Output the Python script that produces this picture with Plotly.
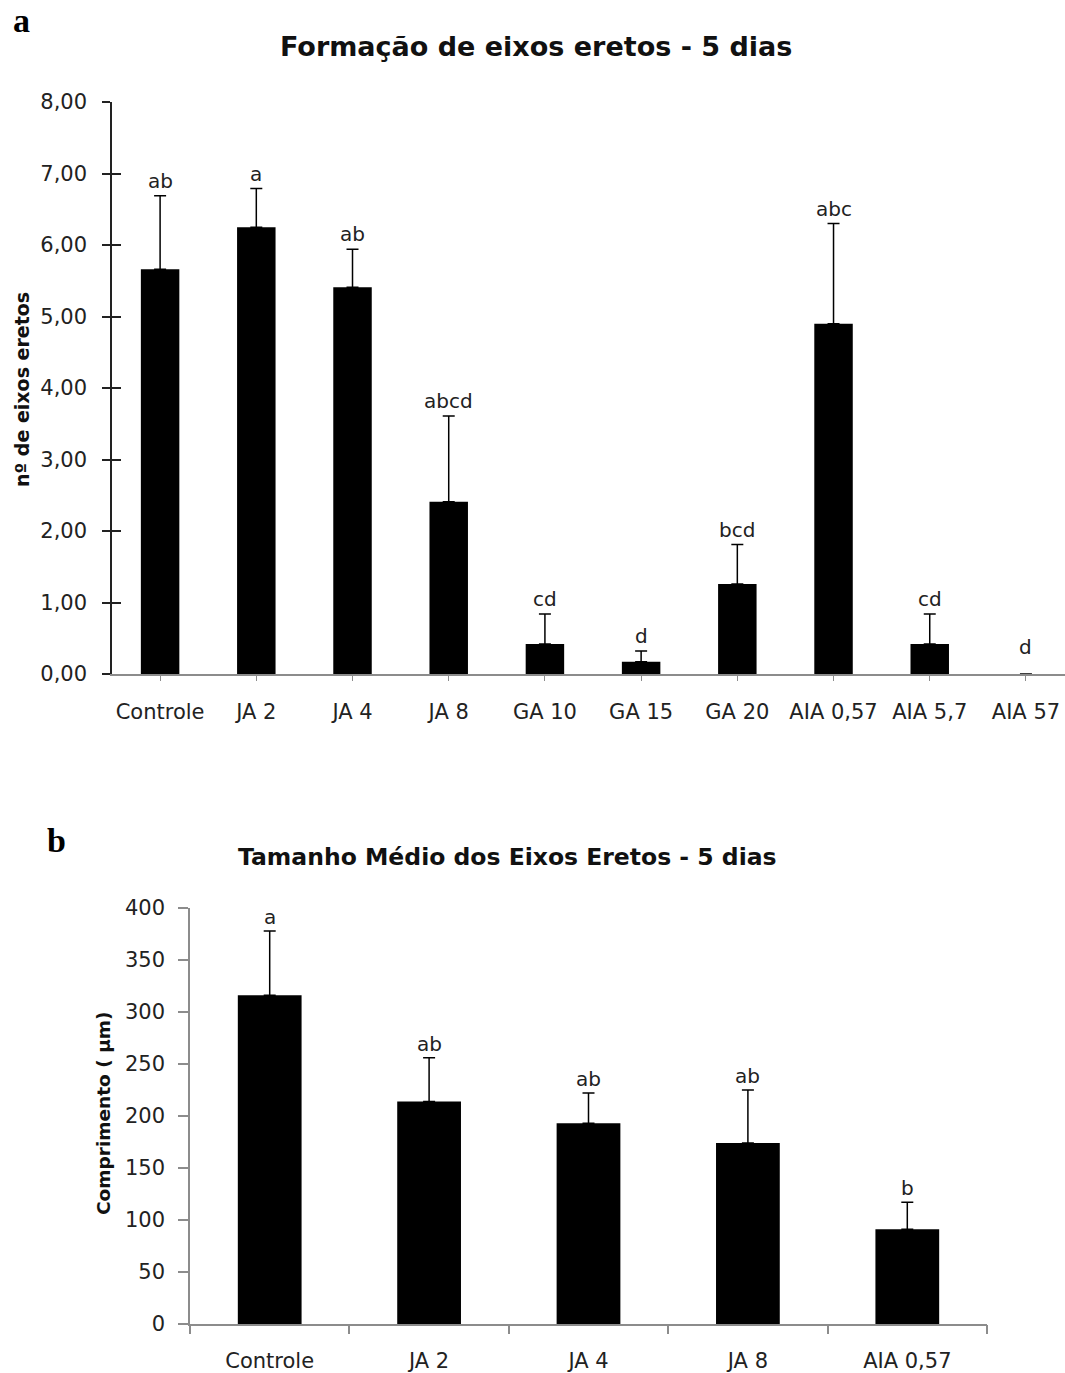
import plotly.graph_objects as go

W, H = 1065, 1373

# Panel a
cats_a = ["Controle", "JA 2", "JA 4", "JA 8", "GA 10", "GA 15", "GA 20", "AIA 0,57", "AIA 5,7", "AIA 57"]
vals_a = [5.66, 6.25, 5.41, 2.41, 0.42, 0.17, 1.26, 4.90, 0.42, 0.0]
err_a = [1.03, 0.54, 0.53, 1.20, 0.42, 0.15, 0.55, 1.40, 0.42, 0.0]
letters_a = ["ab", "a", "ab", "abcd", "cd", "d", "bcd", "abc", "cd", "d"]
yticks_a = [0, 1, 2, 3, 4, 5, 6, 7, 8]
yticklabels_a = ["0,00", "1,00", "2,00", "3,00", "4,00", "5,00", "6,00", "7,00", "8,00"]

# Panel b
cats_b = ["Controle", "JA 2", "JA 4", "JA 8", "AIA 0,57"]
vals_b = [316, 214, 193, 174, 91]
err_b = [62, 42, 29, 51, 26]
letters_b = ["a", "ab", "ab", "ab", "b"]

def px_x(p):
    return p / W

def px_y(p):
    return 1 - p / H

FONT = "DejaVu Sans"
TXT = "#222222"
TICKSIZE = 21

fig = go.Figure()

fig.add_trace(go.Bar(
    x=list(range(len(cats_a))), y=vals_a, width=0.4,
    marker=dict(color="black", line=dict(width=0)),
    error_y=dict(type="data", symmetric=False, array=err_a,
                 arrayminus=[0] * len(err_a), color="black", thickness=1.5, width=6),
    xaxis="x", yaxis="y", showlegend=False,
))
fig.add_trace(go.Scatter(x=[0], y=[0], mode="markers", marker=dict(opacity=0),
                         xaxis="x", yaxis="y3", showlegend=False, hoverinfo="skip"))

fig.add_trace(go.Bar(
    x=list(range(len(cats_b))), y=vals_b, width=0.4,
    marker=dict(color="black", line=dict(width=0)),
    error_y=dict(type="data", symmetric=False, array=err_b,
                 arrayminus=[0] * len(err_b), color="black", thickness=1.5, width=6),
    xaxis="x2", yaxis="y2", showlegend=False,
))
fig.add_trace(go.Scatter(x=[0], y=[0], mode="markers", marker=dict(opacity=0),
                         xaxis="x4", yaxis="y2", showlegend=False, hoverinfo="skip"))

ann = []
for i, (v, e, t) in enumerate(zip(vals_a, err_a, letters_a)):
    ann.append(dict(x=i, y=v + e, xref="x", yref="y", text=t, showarrow=False,
                    yanchor="middle", yshift=15 if e > 0 else 27,
                    font=dict(family=FONT, size=20, color=TXT)))
for i, (v, e, t) in enumerate(zip(vals_b, err_b, letters_b)):
    ann.append(dict(x=i, y=v + e, xref="x2", yref="y2", text=t, showarrow=False,
                    yanchor="middle", yshift=14,
                    font=dict(family=FONT, size=20, color=TXT)))

ann.append(dict(x=px_x(536), y=px_y(47), xref="paper", yref="paper",
                text="<b>Formação de eixos eretos - 5 dias</b>", showarrow=False,
                xanchor="center", yanchor="middle",
                font=dict(family=FONT, size=27, color="#111")))
ann.append(dict(x=px_x(507), y=px_y(857), xref="paper", yref="paper",
                text="<b>Tamanho Médio dos Eixos Eretos - 5 dias</b>", showarrow=False,
                xanchor="center", yanchor="middle",
                font=dict(family=FONT, size=23.5, color="#111")))
ann.append(dict(x=px_x(22), y=px_y(390), xref="paper", yref="paper",
                text="<b>nº de eixos eretos</b>", showarrow=False, textangle=-90,
                xanchor="center", yanchor="middle",
                font=dict(family=FONT, size=19, color="#111")))
ann.append(dict(x=px_x(103), y=px_y(1113), xref="paper", yref="paper",
                text="<b>Comprimento ( µm)</b>", showarrow=False, textangle=-90,
                xanchor="center", yanchor="middle",
                font=dict(family=FONT, size=18.5, color="#111")))
ann.append(dict(x=px_x(21), y=px_y(20), xref="paper", yref="paper",
                text="<b>a</b>", showarrow=False, xanchor="center", yanchor="middle",
                font=dict(family="Liberation Serif", size=34, color="black")))
ann.append(dict(x=px_x(56), y=px_y(840), xref="paper", yref="paper",
                text="<b>b</b>", showarrow=False, xanchor="center", yanchor="middle",
                font=dict(family="Liberation Serif", size=34, color="black")))

fig.update_layout(
    width=W, height=H,
    margin=dict(l=0, r=0, t=0, b=0, autoexpand=False),
    paper_bgcolor="white", plot_bgcolor="white",
    annotations=ann,
    xaxis=dict(domain=[px_x(112), 1.0], range=[-0.5, 9.406], automargin=False,
               tickvals=list(range(len(cats_a))), ticktext=cats_a,
               showline=True, linecolor="#8c8c8c", linewidth=1.5,
               ticks="outside", ticklen=5, tickcolor="#8c8c8c",
               ticklabelstandoff=13, showgrid=False, zeroline=False,
               tickfont=dict(family=FONT, size=TICKSIZE, color=TXT), anchor="y"),
    yaxis=dict(domain=[px_y(674), px_y(102)], range=[0, 8], automargin=False,
               tickvals=yticks_a, ticktext=yticklabels_a,
               showline=True, linecolor="#222", linewidth=1.5,
               ticks="outside", ticklen=8, tickcolor="#222", tickwidth=1.5,
               ticklabelstandoff=11, showgrid=False, zeroline=False,
               tickfont=dict(family=FONT, size=TICKSIZE, color=TXT), anchor="x"),
    yaxis3=dict(overlaying="y", matches="y", range=[0, 8], tickvals=yticks_a,
                automargin=False,
                showticklabels=False, ticks="inside", ticklen=9, tickcolor="#222",
                tickwidth=1.5, showline=False, showgrid=False, zeroline=False,
                anchor="x", side="left"),
    xaxis2=dict(domain=[px_x(190), px_x(987)], range=[-0.5, 4.5], automargin=False,
                tickvals=list(range(len(cats_b))), ticktext=cats_b,
                showline=True, linecolor="#8c8c8c", linewidth=1.5,
                ticks="", showgrid=False, zeroline=False,
                ticklabelstandoff=17,
                tickfont=dict(family=FONT, size=TICKSIZE, color=TXT), anchor="y2"),
    xaxis4=dict(domain=[px_x(190), px_x(987)], range=[-0.5, 4.5], automargin=False,
                overlaying="x2", tickvals=[-0.5, 0.5, 1.5, 2.5, 3.5, 4.5],
                showticklabels=False, ticks="outside", ticklen=9,
                tickcolor="#8c8c8c", tickwidth=1.5, showline=False,
                showgrid=False, zeroline=False, anchor="y2"),
    yaxis2=dict(domain=[px_y(1324), px_y(908)], range=[0, 400], dtick=50,
                automargin=False,
                showline=True, linecolor="#8c8c8c", linewidth=1.5,
                ticks="outside", ticklen=10, tickcolor="#8c8c8c", tickwidth=1.5,
                ticklabelstandoff=9, showgrid=False, zeroline=False,
                tickfont=dict(family=FONT, size=TICKSIZE, color=TXT), anchor="x2"),
)

fig.write_html(
    "out.html",
    config={"displayModeBar": False},
    post_script="document.body.style.margin='0';document.body.style.padding='0';"
                "document.documentElement.style.overflow='hidden';",
)
